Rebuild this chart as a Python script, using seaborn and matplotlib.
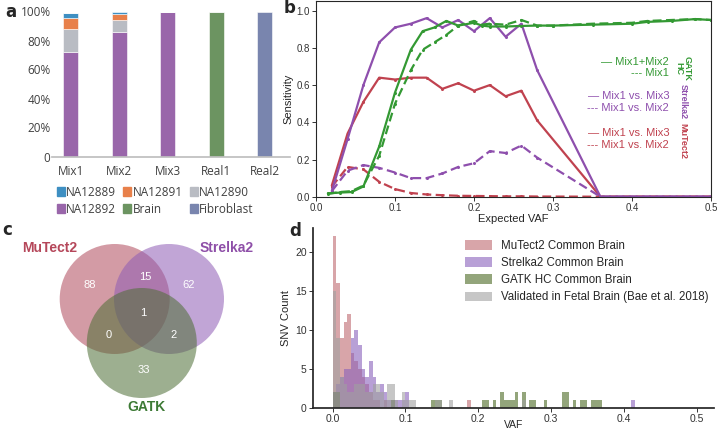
import matplotlib
matplotlib.use("Agg")
import matplotlib.pyplot as plt
from matplotlib.patches import Circle, Patch
import numpy as np
import pandas as pd
import seaborn as sns

# ---------------- panel a: sample composition ----------------
samples = ["Mix1", "Mix2", "Mix3", "Real1", "Real2"]
na12892 = [0.72, 0.862, 1.0, 0.0, 0.0]
na12890 = [0.157, 0.076, 0.0, 0.0, 0.0]
na12891 = [0.077, 0.042, 0.0, 0.0, 0.0]
na12889 = [0.039, 0.020, 0.0, 0.0, 0.0]
brain = [0.0, 0.0, 0.0, 1.0, 0.0]
fibroblast = [0.0, 0.0, 0.0, 0.0, 1.0]

# ---------------- panel b: sensitivity vs expected VAF ----------------
vaf_mix = [0.02, 0.04, 0.06, 0.08, 0.10, 0.12, 0.14, 0.16, 0.18, 0.20,
           0.22, 0.24, 0.26, 0.28, 0.36, 0.40, 0.45, 0.50]
strelka_mix3 = [0.03, 0.31, 0.60, 0.83, 0.91, 0.93, 0.96, 0.91, 0.95, 0.89,
                0.96, 0.86, 0.93, 0.68, 0.0, 0.0, 0.0, 0.0]
strelka_mix2 = [0.03, 0.14, 0.17, 0.155, 0.13, 0.10, 0.10, 0.125, 0.16, 0.18,
                0.245, 0.235, 0.275, 0.21, 0.0, 0.0, 0.0, 0.0]
mutect_mix3 = [0.06, 0.34, 0.51, 0.64, 0.63, 0.64, 0.64, 0.58, 0.61, 0.57,
               0.60, 0.54, 0.57, 0.41, 0.0, 0.0, 0.0, 0.0]
mutect_mix2 = [0.054, 0.16, 0.147, 0.08, 0.041, 0.02, 0.012, 0.008, 0.005, 0.004,
               0.003, 0.002, 0.002, 0.001, 0.0, 0.0, 0.0, 0.0]

vaf_gatk = [0.015, 0.03, 0.045, 0.06, 0.08, 0.10, 0.12, 0.135, 0.15, 0.165,
            0.18, 0.20, 0.21, 0.22, 0.24, 0.26, 0.28, 0.30, 0.35, 0.40,
            0.42, 0.45, 0.48, 0.50]
gatk_mix12 = [0.018, 0.022, 0.025, 0.055, 0.27, 0.56, 0.79, 0.89, 0.91, 0.945,
              0.92, 0.935, 0.92, 0.915, 0.915, 0.918, 0.92, 0.92, 0.925, 0.93,
              0.94, 0.945, 0.955, 0.95]
gatk_mix1 = [0.015, 0.025, 0.03, 0.06, 0.22, 0.50, 0.68, 0.79, 0.83, 0.87,
             0.92, 0.945, 0.925, 0.93, 0.925, 0.95, 0.92, 0.92, 0.93, 0.935,
             0.945, 0.95, 0.955, 0.95]

# ---------------- panel c: overlap counts ----------------
venn_labels = ["MuTect2", "Strelka2", "GATK"]
venn_counts = {"100": 88, "110": 15, "010": 62, "111": 1, "101": 0, "011": 2, "001": 33}

# ---------------- panel d: VAF histograms (bin left edge, count) ----------------
bin_w = 0.005
mutect_bins = [0.0, 0.005, 0.01, 0.015, 0.02, 0.025, 0.03, 0.035, 0.04, 0.045,
               0.05, 0.055, 0.06, 0.07, 0.185]
mutect_n = [22, 16, 9, 11, 12, 7, 6, 5, 4, 3, 2, 1, 1, 1, 1]
strelka_bins = [0.0, 0.005, 0.01, 0.015, 0.02, 0.025, 0.03, 0.035, 0.04, 0.045,
                0.05, 0.055, 0.06, 0.065, 0.07, 0.075, 0.08, 0.085, 0.09, 0.095,
                0.10, 0.41]
strelka_n = [2, 3, 4, 5, 5, 9, 10, 8, 5, 4, 6, 4, 2, 3, 2, 1, 1, 1, 1, 1, 2, 1]
gatk_bins = [0.0, 0.005, 0.08, 0.135, 0.14, 0.145, 0.205, 0.21, 0.22, 0.23,
             0.235, 0.24, 0.245, 0.25, 0.26, 0.27, 0.275, 0.29, 0.315, 0.32,
             0.33, 0.34, 0.345, 0.355, 0.36, 0.365]
gatk_n = [2, 2, 1, 1, 1, 1, 1, 1, 1, 2, 1, 1, 1, 2, 2, 1, 1, 1, 2, 2,
          1, 1, 1, 1, 1, 1]
valid_bins = [0.0, 0.005, 0.01, 0.015, 0.02, 0.025, 0.03, 0.035, 0.04, 0.045,
              0.05, 0.055, 0.06, 0.065, 0.07, 0.075, 0.08, 0.085, 0.095, 0.10,
              0.105, 0.11, 0.14, 0.145, 0.16, 0.26]
valid_n = [15, 9, 4, 3, 2, 2, 3, 3, 3, 2, 2, 3, 3, 2, 1, 3, 3, 1, 2, 1,
           1, 1, 1, 1, 1, 1]

sns.set_theme(style="ticks")
plt.rcParams["font.family"] = ["Liberation Sans", "DejaVu Sans"]

fig = plt.figure(figsize=(7.2, 4.3), dpi=100)

# ===== a =====
ax_a = fig.add_axes([52 / 720, 1 - 156.5 / 430, 238 / 720, 145 / 430])
cols_a = {"NA12889": "#3E8FC2", "NA12891": "#E8804A", "NA12890": "#B9BCC3",
          "NA12892": "#9966AA", "Brain": "#6C9461", "Fibroblast": "#7985AE"}
stack = [("NA12892", na12892), ("NA12890", na12890), ("NA12891", na12891),
         ("NA12889", na12889), ("Brain", brain), ("Fibroblast", fibroblast)]
xpos = np.arange(len(samples))
bottom = np.zeros(len(samples))
for name, vals in stack:
    ax_a.bar(xpos, vals, bottom=bottom, width=0.31, color=cols_a[name],
             edgecolor="white", linewidth=0.4, label=name)
    bottom += np.array(vals)
ax_a.set_xlim(-0.39, 4.52)
ax_a.set_ylim(0, 1.0)
ax_a.set_yticks([0, 0.2, 0.4, 0.6, 0.8, 1.0])
ax_a.set_yticklabels(["0", "20%", "40%", "60%", "80%", "100%"])
ax_a.set_xticks(xpos)
ax_a.set_xticklabels(samples)
for s in ["top", "right", "left"]:
    ax_a.spines[s].set_visible(False)
ax_a.spines["bottom"].set_color("#BFBFBF")
ax_a.tick_params(axis="x", length=0, labelsize=8.5, colors="#404040", pad=6)
ax_a.tick_params(axis="y", length=0, labelsize=8.5, colors="#404040", pad=1)
for t in ax_a.get_xticklabels() + ax_a.get_yticklabels():
    t.set_family(["Open Sans", "DejaVu Sans"])
order = ["NA12889", "NA12892", "NA12891", "Brain", "NA12890", "Fibroblast"]
handles = [Patch(color=cols_a[n], label=n) for n in order]
leg_a = fig.legend(handles=handles, ncol=3, loc="upper left",
                   bbox_to_anchor=(46 / 720, 1 - 175 / 430), frameon=False,
                   handlelength=0.7, handleheight=0.7, handletextpad=0.1,
                   columnspacing=0.6, labelspacing=0.35,
                   prop={"family": "Open Sans", "size": 8.5})
for t in leg_a.get_texts():
    t.set_color("#404040")

# ===== b =====
ax_b = fig.add_axes([316 / 720, 1 - 196.7 / 430, 395 / 720, 195.3 / 430])
green, purple, red = "#339933", "#8E4FAD", "#C0424F"
lw = 1.6
series_b = [
    (vaf_mix, mutect_mix2, red, (4, 2)),
    (vaf_mix, mutect_mix3, red, None),
    (vaf_mix, strelka_mix2, purple, (4, 2)),
    (vaf_mix, strelka_mix3, purple, None),
    (vaf_gatk, gatk_mix1, green, (4, 2)),
    (vaf_gatk, gatk_mix12, green, None),
]
for xs, ys, c, dash in series_b:
    sns.lineplot(x=xs, y=ys, ax=ax_b, color=c, linewidth=lw,
                 marker="o", markersize=2.2, markeredgewidth=0)
    if dash is not None:
        ax_b.lines[-1].set_dashes(dash)
ax_b.set_xlim(0, 0.5)
ax_b.set_ylim(0, 1.05)
ax_b.set_xticks([0.0, 0.1, 0.2, 0.3, 0.4, 0.5])
ax_b.set_yticks([0.0, 0.2, 0.4, 0.6, 0.8, 1.0])
ax_b.tick_params(labelsize=7, length=3, width=0.7, pad=1.5, colors="#333333")
for s in ax_b.spines.values():
    s.set_linewidth(0.8)
ax_b.set_xlabel("Expected VAF", fontsize=8, labelpad=1)
ax_b.set_ylabel("Sensitivity", fontsize=8, labelpad=2)
leg_rows = [("\u2014 Mix1+Mix2", 0.688, green), ("--- Mix1", 0.633, green),
            ("\u2014 Mix1 vs. Mix3", 0.514, purple), ("--- Mix1 vs. Mix2", 0.454, purple),
            ("\u2014 Mix1 vs. Mix3", 0.328, red), ("--- Mix1 vs. Mix2", 0.265, red)]
for txt, yy, c in leg_rows:
    ax_b.text(0.894, yy, txt, transform=ax_b.transAxes, ha="right", va="center",
              color=c, fontsize=8)
ax_b.text(0.928, 0.656, "GATK\nHC", transform=ax_b.transAxes, rotation=270,
          ha="center", va="center", color=green, fontsize=6.5, fontweight="bold",
          linespacing=0.9)
ax_b.text(0.929, 0.485, "Strelka2", transform=ax_b.transAxes, rotation=270,
          ha="center", va="center", color=purple, fontsize=6.5, fontweight="bold")
ax_b.text(0.929, 0.285, "MuTect2", transform=ax_b.transAxes, rotation=270,
          ha="center", va="center", color=red, fontsize=6.5, fontweight="bold")

# ===== c =====
ax_c = fig.add_axes([0, 0, 290 / 720, 215 / 430])
ax_c.set_xlim(0, 290)
ax_c.set_ylim(215, 0)
ax_c.axis("off")
r = 55
centers = [(114.7, 84), (169.0, 84), (141.8, 128)]
venn_colors = ["#B04A5C", "#8E5CB5", "#4D6E35"]
for (cx, cy), c in zip(centers, venn_colors):
    ax_c.add_patch(Circle((cx, cy), r, facecolor=c, alpha=0.55, edgecolor="none"))
count_pos = {"100": (90, 70), "110": (145.7, 62), "010": (189, 70), "111": (143, 98),
             "101": (109, 120), "011": (174, 120), "001": (144, 155)}
for key, n in venn_counts.items():
    ax_c.text(*count_pos[key], str(n), color="white", fontsize=8,
              ha="center", va="center")
label_pos = [(50, 33), (227, 33), (147, 192)]
label_cols = ["#B5475A", "#8E4FA8", "#3D7A35"]
for name, (lx, ly), c in zip(venn_labels, label_pos, label_cols):
    ax_c.text(lx, ly, name, color=c, fontsize=10, fontweight="bold",
              ha="center", va="center")

# ===== d =====
ax_d = fig.add_axes([313 / 720, 1 - 407.7 / 430, 401 / 720, 180 / 430])
edges = [round(i * bin_w, 4) for i in range(101)]
hist_series = [
    (mutect_bins, mutect_n, "#BF6971", "MuTect2 Common Brain"),
    (strelka_bins, strelka_n, "#8A61BB", "Strelka2 Common Brain"),
    (gatk_bins, gatk_n, "#4B6924", "GATK HC Common Brain"),
    (valid_bins, valid_n, "#A0A0A0", "Validated in Fetal Brain (Bae et al. 2018)"),
]
for lefts, counts, c, lab in hist_series:
    df = pd.DataFrame({"vaf": np.array(lefts) + bin_w / 2, "n": counts})
    sns.histplot(data=df, x="vaf", weights="n", bins=edges, ax=ax_d,
                 color=c, alpha=0.6, edgecolor="none", linewidth=0, label=lab)
ax_d.set_xlim(-0.027, 0.524)
ax_d.set_ylim(0, 23.1)
ax_d.set_xticks([0.0, 0.1, 0.2, 0.3, 0.4, 0.5])
ax_d.set_yticks([0, 5, 10, 15, 20])
sns.despine(ax=ax_d)
ax_d.tick_params(labelsize=7.5, length=3, width=0.7, pad=1.5, colors="#333333")
ax_d.set_xlabel("VAF", fontsize=7.5, labelpad=-3)
ax_d.set_ylabel("SNV Count", fontsize=8, labelpad=3)
leg_d = ax_d.legend(loc="upper right", bbox_to_anchor=(1.012, 0.99), frameon=False,
                    prop={"size": 8.3}, handlelength=2.3, handleheight=0.9,
                    labelspacing=0.45, handletextpad=0.8)

# panel letters
for letter, (px, py) in {"a": (5, 12), "b": (284, 8), "c": (2, 230), "d": (289, 231)}.items():
    fig.text(px / 720, 1 - py / 430, letter, fontsize=12, fontweight="bold",
             ha="left", va="center", family="DejaVu Sans")

fig.savefig("out.png", dpi=100)
